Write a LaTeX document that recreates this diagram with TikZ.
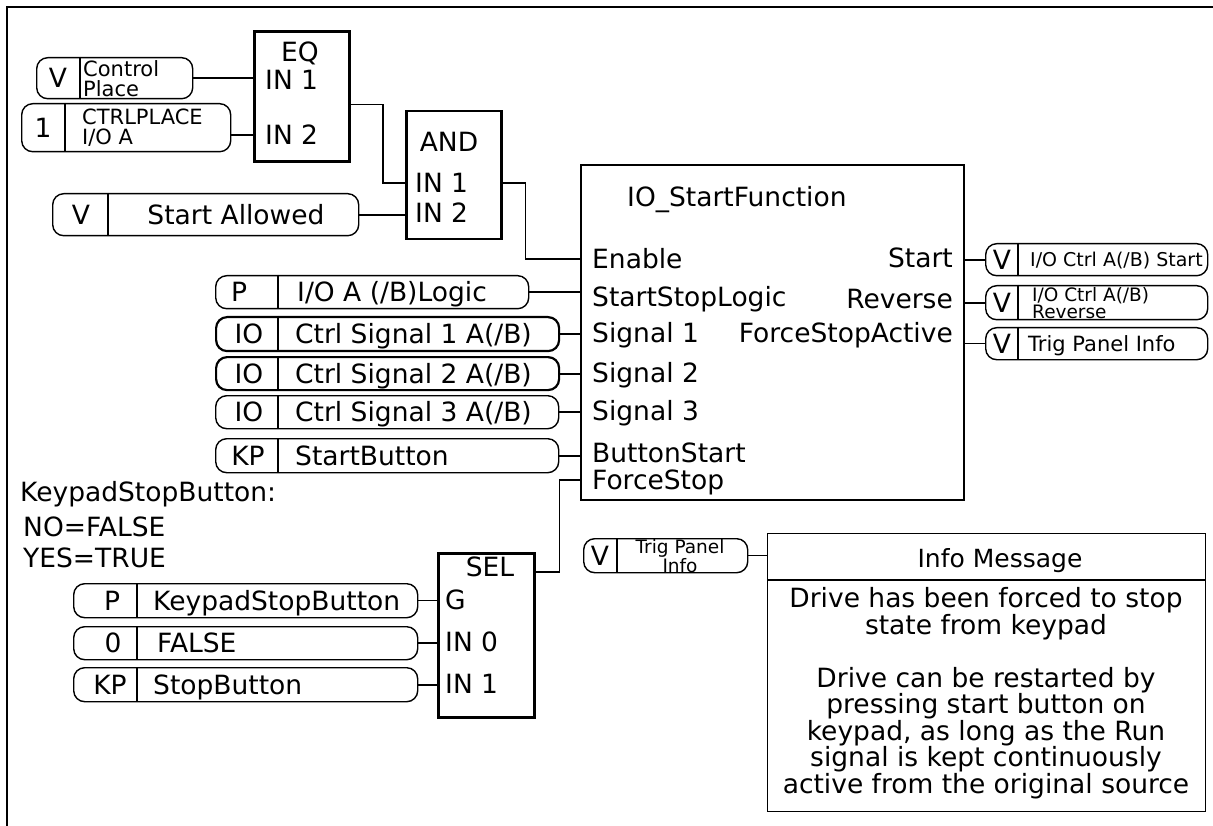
\documentclass[tikz,border=0pt]{standalone}
\usepackage{fontspec}
\setmainfont{DejaVu Sans}
\usepackage{tikz}
\usetikzlibrary{positioning,calc}

\newcommand{\fmain}{\fontsize{26.5}{26.5}\selectfont}
\newcommand{\fsmall}{\fontsize{21}{20}\selectfont}
\newcommand{\ftiny}{\fontsize{18.5}{14.5}\selectfont}

\begin{document}
\begin{tikzpicture}[x=1pt, y=-1pt,
block/.style={draw, line width=2.5pt, anchor=north west, inner sep=0pt},
pill/.style={draw, line width=1.4pt, rounded corners=11pt, anchor=north west, inner sep=0pt},
port/.style={font=\fmain, inner sep=0pt, text height=19pt, text depth=0pt},
note/.style={font=\fsmall, align=left, inner sep=0pt},
divider/.style={line width=1.2pt},
wire/.style={line width=1.8pt},
thinwire/.style={line width=1pt}
]
\useasboundingbox (0,0) rectangle (1213,826);
\draw[line width=1.8pt] (7,830) -- (7,7) -- (1220,7);

% EQ and AND gates
\node[block, line width=2.9pt, minimum width=95pt, minimum height=130pt] (eq) at (253,30) {};
\node[port] (eqTitle) at (300,52) {EQ};
\node[port, anchor=west] (eqIn1) at (265,80) {IN 1};
\node[port, anchor=west] (eqIn2) at (265,135) {IN 2};
\node[block, minimum width=95pt, minimum height=128pt] (andGate) at (405,110) {};
\node[port] (andTitle) at (449,142) {AND};
\node[port, anchor=west] (andIn1) at (415,183) {IN 1};
\node[port, anchor=west] (andIn2) at (415,213) {IN 2};

\node[pill, minimum width=156pt, minimum height=41pt] (ctrlPlace) at (36,57) {};
\draw[divider] ([xshift=44pt]ctrlPlace.north west) -- ([xshift=44pt]ctrlPlace.south west);
\node[port] (ctrlPlaceTag) at ([xshift=22pt]ctrlPlace.west) {V};
\node[note, anchor=west] (ctrlPlaceTxt) at ([xshift=47pt]ctrlPlace.west) {Control\\Place};

\node[pill, minimum width=209pt, minimum height=48pt] (ctrlIoA) at (21,103) {};
\draw[divider] ([xshift=44pt]ctrlIoA.north west) -- ([xshift=44pt]ctrlIoA.south west);
\node[port] (ctrlIoATag) at ([xshift=22pt]ctrlIoA.west) {1};
\node[note, anchor=west] (ctrlIoATxt) at ([xshift=61pt]ctrlIoA.west) {CTRLPLACE\\I/O A};

\node[pill, minimum width=306pt, minimum height=42pt] (startAllowed) at (52,193) {};
\draw[divider] ([xshift=56pt]startAllowed.north west) -- ([xshift=56pt]startAllowed.south west);
\node[port] (startAllowedTag) at ([xshift=29pt]startAllowed.west) {V};
\node[port] (startAllowedTxt) at ([xshift=184pt]startAllowed.west) {Start Allowed};

\draw[wire] (ctrlPlace.east) -- (ctrlPlace.east -| eq.west);
\draw[wire] (eqIn2 -| ctrlIoA.east) -- (eqIn2 -| eq.west);
\draw[wire] ([yshift=-8pt]eq.east) -- ++(32,0) |- (andIn1 -| andGate.west);
\draw[wire] (startAllowed.east) -- (startAllowed.east -| andGate.west);

% start function block
\node[block, line width=2.4pt, minimum width=383pt, minimum height=335pt] (io) at (580,164) {};
\node[port, anchor=west] (ioTitle) at (627,197) {IO\_StartFunction};
\node[port, anchor=west] (ioEn) at (592,259) {Enable};
\node[port, anchor=west] (ioSsl) at (592,297) {StartStopLogic};
\node[port, anchor=west] (ioS1) at (592,333) {Signal 1};
\node[port, anchor=west] (ioS2) at (592,373) {Signal 2};
\node[port, anchor=west] (ioS3) at (592,411) {Signal 3};
\node[port, anchor=west] (ioBs) at (592,453) {ButtonStart};
\node[port, anchor=west] (ioFs) at (592,480) {ForceStop};
\node[port, anchor=east] (ioStart) at (953,258) {Start};
\node[port, anchor=east] (ioRev) at (953,299) {Reverse};
\node[port, anchor=east] (ioFsa) at (953,333) {ForceStopActive};

\draw[wire] ([yshift=-8pt]andGate.east) -- ++(23,0) |- (ioEn -| io.west);

\node[pill, minimum width=313pt, minimum height=33pt] (ioLogic) at (215,275) {};
\draw[divider] ([xshift=63pt]ioLogic.north west) -- ([xshift=63pt]ioLogic.south west);
\node[port] (ioLogicTag) at ([xshift=24pt]ioLogic.west) {P};
\node[port, anchor=west] (ioLogicTxt) at ([xshift=82pt]ioLogic.west) {I/O A (/B)Logic};

\node[pill, line width=2.2pt, minimum width=343pt, minimum height=34pt] (sig1) at (215,316) {};
\draw[divider] ([xshift=63pt]sig1.north west) -- ([xshift=63pt]sig1.south west);
\node[port] (sig1Tag) at ([xshift=34pt]sig1.west) {IO};
\node[port, anchor=west] (sig1Txt) at ([xshift=80pt]sig1.west) {Ctrl Signal 1 A(/B)};

\node[pill, line width=2.2pt, minimum width=343pt, minimum height=33pt] (sig2) at (215,356) {};
\draw[divider] ([xshift=63pt]sig2.north west) -- ([xshift=63pt]sig2.south west);
\node[port] (sig2Tag) at ([xshift=34pt]sig2.west) {IO};
\node[port, anchor=west] (sig2Txt) at ([xshift=80pt]sig2.west) {Ctrl Signal 2 A(/B)};

\node[pill, minimum width=343pt, minimum height=33pt] (sig3) at (215,395) {};
\draw[divider] ([xshift=63pt]sig3.north west) -- ([xshift=63pt]sig3.south west);
\node[port] (sig3Tag) at ([xshift=34pt]sig3.west) {IO};
\node[port, anchor=west] (sig3Txt) at ([xshift=80pt]sig3.west) {Ctrl Signal 3 A(/B)};

\node[pill, minimum width=343pt, minimum height=34pt] (startBtn) at (215,438) {};
\draw[divider] ([xshift=63pt]startBtn.north west) -- ([xshift=63pt]startBtn.south west);
\node[port] (startBtnTag) at ([xshift=33pt]startBtn.west) {KP};
\node[port, anchor=west] (startBtnTxt) at ([xshift=80pt]startBtn.west) {StartButton};

\draw[wire] (ioLogic.east) -- (ioLogic.east -| io.west);
\draw[wire] (sig1.east) -- (sig1.east -| io.west);
\draw[wire] (sig2.east) -- (sig2.east -| io.west);
\draw[wire] (sig3.east) -- (sig3.east -| io.west);
\draw[wire] (startBtn.east) -- (startBtn.east -| io.west);

% outputs
\node[pill, minimum width=222pt, minimum height=32pt] (outStart) at (985,243) {};
\draw[divider] ([xshift=33pt]outStart.north west) -- ([xshift=33pt]outStart.south west);
\node[port] (outStartTag) at ([xshift=17pt]outStart.west) {V};
\node[port, font=\fontsize{19}{19}\selectfont, text height=14pt, anchor=west] (outStartTxt) at ([xshift=45pt]outStart.west) {I/O Ctrl A(/B) Start};

\node[pill, minimum width=222pt, minimum height=34pt] (outRev) at (985,285) {};
\draw[divider] ([xshift=33pt]outRev.north west) -- ([xshift=33pt]outRev.south west);
\node[port] (outRevTag) at ([xshift=17pt]outRev.west) {V};
\node[note, font=\ftiny, anchor=west] (outRevTxt) at ([xshift=47pt]outRev.west) {I/O Ctrl A(/B)\\Reverse};

\node[pill, minimum width=222pt, minimum height=32pt] (outTrig) at (985,327) {};
\draw[divider] ([xshift=33pt]outTrig.north west) -- ([xshift=33pt]outTrig.south west);
\node[port] (outTrigTag) at ([xshift=17pt]outTrig.west) {V};
\node[port, font=\fsmall, text height=15pt, anchor=west] (outTrigTxt) at ([xshift=43pt]outTrig.west) {Trig Panel Info};

\draw[wire] (outStart.west -| io.east) -- (outStart.west);
\draw[wire] (outRev.west -| io.east) -- (outRev.west);
\draw[thinwire] (outTrig.west -| io.east) -- (outTrig.west);

% keypad stop selection
\node[port, anchor=west] (kpNote) at (20,492) {KeypadStopButton:};
\node[port, anchor=west] (noNote) at (23,527) {NO=FALSE};
\node[port, anchor=west] (yesNote) at (23,558) {YES=TRUE};

\node[block, minimum width=96pt, minimum height=164pt] (sel) at (437,552) {};
\node[port] (selTitle) at (490,567) {SEL};
\node[port, anchor=west] (selG) at (445,600) {G};
\node[port, anchor=west] (selIn0) at (445,642) {IN 0};
\node[port, anchor=west] (selIn1) at (445,684) {IN 1};

\node[pill, minimum width=344pt, minimum height=34pt] (kpStop) at (73,583) {};
\draw[divider] ([xshift=64pt]kpStop.north west) -- ([xshift=64pt]kpStop.south west);
\node[port] (kpStopTag) at ([xshift=39pt]kpStop.west) {P};
\node[port, anchor=west] (kpStopTxt) at ([xshift=80pt]kpStop.west) {KeypadStopButton};

\node[pill, minimum width=344pt, minimum height=33pt] (falseIn) at (73,626) {};
\draw[divider] ([xshift=64pt]falseIn.north west) -- ([xshift=64pt]falseIn.south west);
\node[port] (falseInTag) at ([xshift=40pt]falseIn.west) {0};
\node[port, anchor=west] (falseInTxt) at ([xshift=84pt]falseIn.west) {FALSE};

\node[pill, minimum width=344pt, minimum height=34pt] (stopBtn) at (73,667) {};
\draw[divider] ([xshift=64pt]stopBtn.north west) -- ([xshift=64pt]stopBtn.south west);
\node[port] (stopBtnTag) at ([xshift=37pt]stopBtn.west) {KP};
\node[port, anchor=west] (stopBtnTxt) at ([xshift=80pt]stopBtn.west) {StopButton};

\draw[thinwire] (kpStop.east) -- (kpStop.east -| sel.west);
\draw[wire] (falseIn.east) -- (falseIn.east -| sel.west);
\draw[wire] (stopBtn.east) -- (stopBtn.east -| sel.west);
\draw[wire] ([yshift=-20pt]sel.north east) -- ++(24,0) |- (ioFs -| io.west);

% info message
\node[pill, minimum width=164pt, minimum height=34pt] (trigInfo) at (583,538) {};
\draw[divider] ([xshift=34pt]trigInfo.north west) -- ([xshift=34pt]trigInfo.south west);
\node[port] (trigInfoTag) at ([xshift=17pt]trigInfo.west) {V};
\node[note, font=\ftiny, align=center] (trigInfoTxt) at ([xshift=97pt]trigInfo.west) {Trig Panel\\Info};

\node[draw, line width=1.4pt, anchor=north west, inner sep=0pt, minimum width=438pt, minimum height=278pt] (info) at (767,533) {};
\draw[line width=1.4pt] ([yshift=-47pt]info.north west) -- ([yshift=-47pt]info.north east);
\node[port, font=\fontsize{25}{25}\selectfont, text height=18pt] (infoHead) at (1000,558) {Info Message};
\node[font=\fmain, align=center, inner sep=0pt] (infoBody) at (986,693) {Drive has been forced to stop\\state from keypad\\[26.5pt]Drive can be restarted by\\pressing start button on\\keypad, as long as the Run\\signal is kept continuously\\active from the original source};

\draw[thinwire] (trigInfo.east) -- (trigInfo.east -| info.west);
\end{tikzpicture}
\end{document}
